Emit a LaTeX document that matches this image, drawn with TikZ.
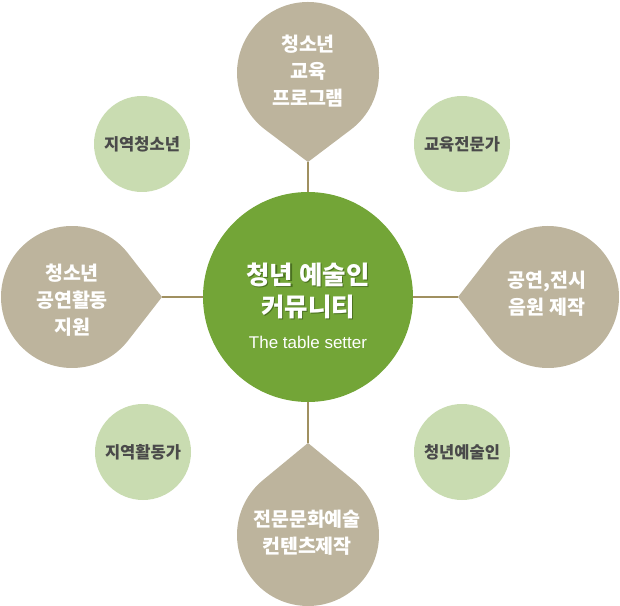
\documentclass[tikz,border=0pt]{standalone}
\usepackage{fontspec}
\setmainfont{Noto Sans CJK KR}
\newfontfamily\latinsans{Liberation Sans}
\definecolor{mainc}{HTML}{73A537}
\definecolor{dropc}{HTML}{BDB49D}
\definecolor{smallc}{HTML}{C9DCB1}
\definecolor{linec}{HTML}{A09060}
\definecolor{smtext}{HTML}{4A4A4A}
\definecolor{shadowc}{HTML}{4A7020}
\begin{document}
\begin{tikzpicture}[x=1pt,y=1pt,
  dropshape/.style={fill=dropc},
  dtext/.style={text=white,font=\bfseries\fontsize{19.5}{27}\selectfont,align=center,inner sep=0pt},
  smallnode/.style={circle,fill=smallc,minimum size=96pt,inner sep=0pt,text=smtext,font=\bfseries\fontsize{16.5}{18}\selectfont},
  link/.style={draw=linec,line width=2pt},
  ctext/.style={font=\bfseries\fontsize{25.5}{28}\selectfont,inner sep=0pt}]
\useasboundingbox (0,0) rectangle (620,605);

% tips
\coordinate (ttip) at (308,443);
\coordinate (ltip) at (162,308);
\coordinate (rtip) at (458,308);
\coordinate (btip) at (308,162);

% central circle
\node[circle,fill=mainc,minimum size=210pt,inner sep=0pt] (c) at (308,308) {};

% connectors
\draw[link] (ttip) -- (c);
\draw[link] (ltip) -- (c);
\draw[link] (rtip) -- (c);
\draw[link] (btip) -- (c);

% drops
\fill[dropshape] (ttip) -- ([shift={(308,532)}]-53:71) arc[start angle=-53,end angle=233,radius=71] -- cycle;
\fill[dropshape] (ltip) -- ([shift={(72,308)}]38:71) arc[start angle=38,end angle=322,radius=71] -- cycle;
\fill[dropshape] (rtip) -- ([shift={(548,308)}]218:71) arc[start angle=218,end angle=502,radius=71] -- cycle;
\fill[dropshape] (btip) -- ([shift={(308,70)}]129.5:71) arc[start angle=129.5,end angle=410.5,radius=71] -- cycle;

\node[dtext] (tt) at (308,534) {청소년\\교육\\프로그램};
\node[dtext] (lt) at (72,305) {청소년\\공연활동\\지원};
\node[dtext] (rt) at (547,311) {공연,전시\\음원 제작};
\node[dtext] (bt) at (307,72) {전문문화예술\\컨텐츠제작};

% small circles
\node[smallnode] (s1) at (142,461) {지역청소년};
\node[smallnode] (s2) at (462,461) {교육전문가};
\node[smallnode] (s3) at (143,153) {지역활동가};
\node[smallnode] (s4) at (462,153) {청년예술인};

% central text
\node[ctext,text=shadowc] (c1s) at (309.2,328.8) {청년 예술인};
\node[ctext,text=white] (c1) at (308,330) {청년 예술인};
\node[ctext,text=shadowc] (c2s) at (309.2,296.8) {커뮤니티};
\node[ctext,text=white] (c2) at (308,298) {커뮤니티};
\node[font=\latinsans\fontsize{17}{20}\selectfont,text=white,inner sep=0pt] (c3) at (308,263) {The table setter};
\end{tikzpicture}
\end{document}
